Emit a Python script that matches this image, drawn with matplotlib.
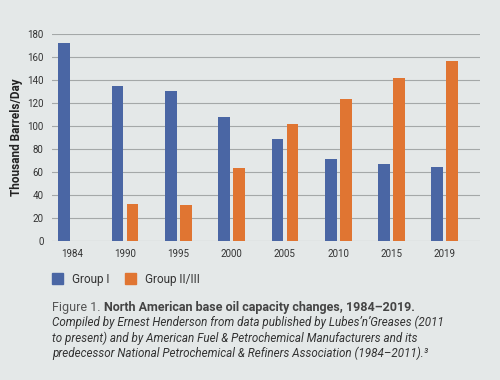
import matplotlib.pyplot as plt
import numpy as np

# data
years = ['1984', '1990', '1995', '2000', '2005', '2010', '2015', '2019']
group_1 = [172, 135, 130, 108, 89, 71, 67, 64]
group_2_3 = [0, 32, 31, 63, 102, 123, 142, 156]
y_ticks = [0, 20, 40, 60, 80, 100, 120, 140, 160, 180]

bg = '#e4e8e8'
blue = '#4a66a4'
orange = '#e07532'

plt.rcParams['font.family'] = ['Roboto', 'DejaVu Sans']

fig = plt.figure(figsize=(5, 3.8), dpi=100, facecolor=bg)
ax = fig.add_axes([0.104, 0.366, 0.856, 0.545], facecolor=bg)

x = np.arange(len(years))
w = 0.22
ax.bar(x - 0.14, group_1, width=w, color=blue, zorder=3)
ax.bar(x + 0.14, group_2_3, width=w, color=orange, zorder=3)

ax.set_xlim(-0.37, 7.66)
ax.set_ylim(0, 180)
ax.set_yticks(y_ticks)
ax.set_xticks(x)
ax.set_xticklabels(years)
ax.tick_params(length=0, labelsize=7, colors='#333333', pad=6)
ax.grid(axis='y', color='#a4a8a8', linewidth=0.8, zorder=0)
for s in ax.spines.values():
    s.set_visible(False)
ax.set_ylabel('Thousand Barrels/Day', fontsize=8.5, fontweight='bold', color='#222222', labelpad=3)

# legend drawn by hand in figure coords
fig.patches.append(plt.Rectangle((52/500, 1-284/380), 11/500, 11/380, color=blue, transform=fig.transFigure))
fig.text(72/500, 1-279/380, 'Group I', fontsize=8.5, color='#333333', va='center')
fig.patches.append(plt.Rectangle((125/500, 1-284/380), 11/500, 11/380, color=orange, transform=fig.transFigure))
fig.text(145/500, 1-279/380, 'Group II/III', fontsize=8.5, color='#333333', va='center')

# caption
t1 = fig.text(52/500, 1-308/380, 'Figure 1. ', fontsize=9, color='#555555', va='center')
fig.canvas.draw()
bb = t1.get_window_extent()
fig.text(bb.x1/500, 1-308/380, 'North American base oil capacity changes, 1984\u20132019.',
         fontsize=9, fontweight='bold', color='#444444', va='center')
cap = ("Compiled by Ernest Henderson from data published by Lubes\u2019n\u2019Greases (2011\n"
       "to present) and by American Fuel & Petrochemical Manufacturers and its\n"
       "predecessor National Petrochemical & Refiners Association (1984\u20132011).\u00b3")
fig.text(52/500, 1-316/380, cap, fontsize=8.4, style='italic', color='#333333',
         va='top', linespacing=1.2)

fig.savefig('out.png', dpi=100, facecolor=bg)
